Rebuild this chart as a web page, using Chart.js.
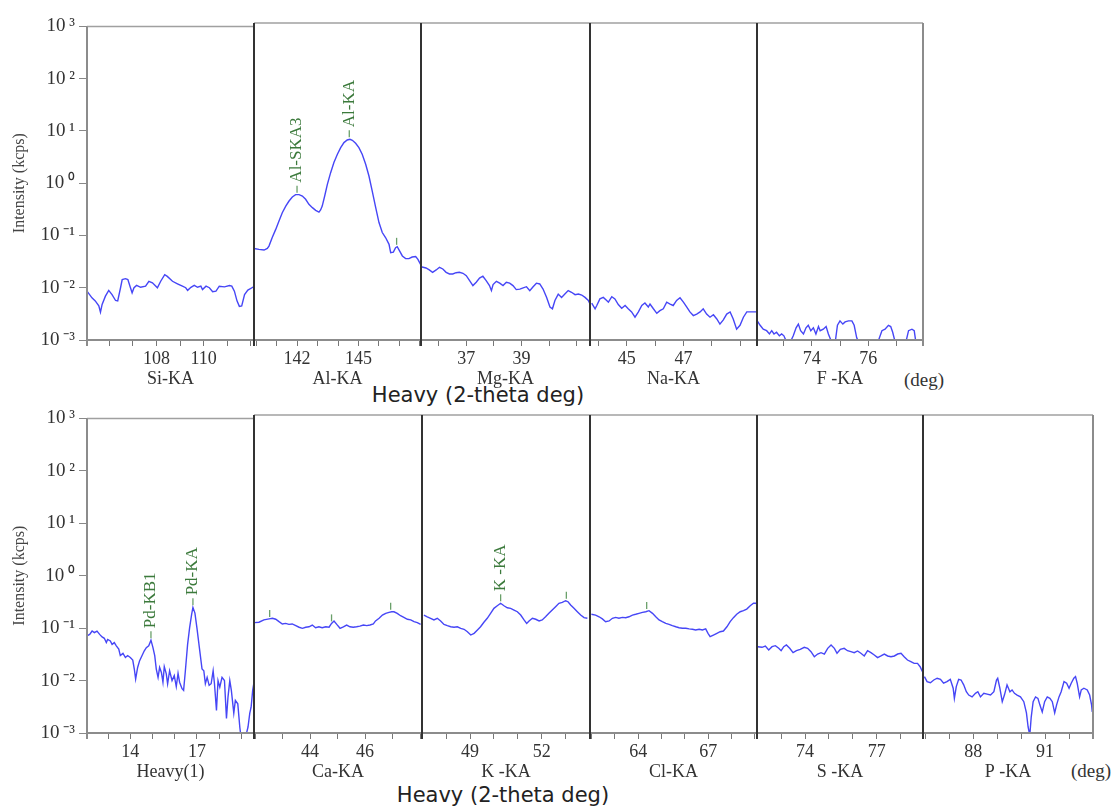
<!DOCTYPE html>
<html>
<head>
<meta charset="utf-8">
<script src="https://cdn.jsdelivr.net/npm/chart.js"></script>
<style>
  body { margin: 0; background: #fff; width: 1118px; height: 807px; position: relative; overflow: hidden; }
  canvas { position: absolute; }
  .lbl { position: absolute; white-space: nowrap; transform: translate(-50%, -50%); }
  .axt { font-family: "DejaVu Sans", sans-serif; font-size: 21px; color: #222; }
  .deg { font-family: "Liberation Serif", serif; font-size: 19px; color: #333; }
</style>
</head>
<body>
<div class="lbl axt" style="left:478px;top:395px">Heavy (2-theta deg)</div>
<div class="lbl deg" style="left:924px;top:380px">(deg)</div>
<div class="lbl axt" style="left:503px;top:795px">Heavy (2-theta deg)</div>
<div class="lbl deg" style="left:1091px;top:771px">(deg)</div>
<script>
// intensity axis (kcps, log)
const yTickValues = [1e-3, 1e-2, 1e-1, 1, 10, 100, 1000];
const yTickLabels = ['10\u2009\u207B\u00B3', '10\u2009\u207B\u00B2', '10\u2009\u207B\u00B9', '10\u2009\u2070', '10\u2009\u00B9', '10\u2009\u00B2', '10\u2009\u00B3'];

// ---- top row ----
const siAngle = [105.06,105.27,105.41,105.56,105.63,105.70,105.84,105.98,106.12,106.27,106.36,106.48,106.55,106.69,106.79,106.90,106.97,107.05,107.16,107.33,107.54,107.68,107.83,108.04,108.18,108.35,108.46,108.68,108.89,109.10,109.24,109.32,109.46,109.60,109.74,109.88,109.95,110.10,110.24,110.38,110.52,110.66,110.88,111.09,111.19,111.30,111.41,111.51,111.61,111.73,111.87,112.08,112.13];
const siInt = [0.0086,0.0064,0.0056,0.0045,0.0034,0.0048,0.0069,0.0089,0.0074,0.0057,0.0056,0.0100,0.0143,0.0149,0.0143,0.0100,0.0080,0.0100,0.0111,0.0102,0.0107,0.0133,0.0124,0.0100,0.0133,0.0178,0.0165,0.0133,0.0119,0.0107,0.0100,0.0089,0.0102,0.0111,0.0102,0.0107,0.0092,0.0107,0.0100,0.0084,0.0086,0.0107,0.0104,0.0110,0.0107,0.0086,0.0056,0.0044,0.0045,0.0074,0.0090,0.0102,0.0107];

const alAngle = [139.90,140.14,140.39,140.55,140.63,140.79,140.96,141.12,141.28,141.45,141.61,141.77,141.93,142.10,142.26,142.42,142.58,142.75,142.91,143.07,143.15,143.23,143.35,143.48,143.64,143.80,143.97,144.13,144.29,144.45,144.58,144.70,144.86,145.02,145.18,145.35,145.51,145.67,145.84,146.00,146.16,146.32,146.49,146.57,146.70,146.81,146.89,147.01,147.14,147.30,147.46,147.62,147.79,147.90,148.03,148.11];
const alInt = [0.054,0.052,0.0505,0.054,0.060,0.087,0.124,0.179,0.257,0.343,0.427,0.508,0.564,0.564,0.531,0.46,0.37,0.32,0.285,0.264,0.29,0.343,0.531,0.885,1.47,2.28,3.27,4.38,5.45,6.1,6.3,6.02,5.28,4.38,3.27,2.12,1.27,0.66,0.32,0.167,0.108,0.087,0.0647,0.045,0.046,0.056,0.0585,0.048,0.039,0.0347,0.0347,0.0372,0.038,0.0336,0.027,0.0234];

const mgAngle = [35.36,35.54,35.66,35.78,35.91,36.03,36.15,36.27,36.39,36.51,36.63,36.75,36.88,37.00,37.12,37.24,37.36,37.48,37.60,37.72,37.84,37.91,37.97,38.09,38.21,38.33,38.45,38.57,38.69,38.81,38.94,39.06,39.18,39.30,39.42,39.54,39.66,39.78,39.91,40.03,40.12,40.21,40.33,40.45,40.57,40.69,40.81,40.94,41.06,41.18,41.30,41.42,41.48];
const mgInt = [0.0244,0.0231,0.0212,0.0191,0.0212,0.0238,0.0221,0.0191,0.0178,0.0178,0.0188,0.0191,0.0183,0.0165,0.0133,0.0107,0.0124,0.0149,0.0161,0.0133,0.0107,0.0086,0.0112,0.0129,0.0119,0.0107,0.0124,0.0119,0.0107,0.0090,0.0092,0.0097,0.0102,0.0086,0.0102,0.0119,0.0115,0.0092,0.0064,0.0042,0.0039,0.0056,0.0074,0.0064,0.0074,0.0086,0.0080,0.0072,0.0074,0.0071,0.0064,0.0056,0.0048];

const naAngle = [43.76,43.88,43.94,44.05,44.17,44.29,44.35,44.47,44.58,44.70,44.82,44.94,45.05,45.17,45.29,45.41,45.53,45.64,45.76,45.82,45.94,46.06,46.17,46.29,46.41,46.53,46.64,46.76,46.88,47.00,47.12,47.23,47.35,47.47,47.59,47.70,47.82,47.94,48.06,48.18,48.29,48.41,48.53,48.65,48.76,48.88,49.00,49.12,49.24,49.35,49.47,49.57];
const naInt = [0.0050,0.0039,0.0045,0.0060,0.0064,0.0056,0.0052,0.0066,0.0060,0.0047,0.0040,0.0045,0.0039,0.0034,0.0027,0.0034,0.0045,0.0050,0.0042,0.0048,0.0039,0.0032,0.0036,0.0039,0.0052,0.0048,0.0045,0.0056,0.0063,0.0052,0.0042,0.0034,0.0029,0.0031,0.0034,0.0039,0.0031,0.0027,0.0030,0.0025,0.0020,0.0024,0.0031,0.0034,0.0025,0.0016,0.0019,0.0027,0.0034,0.0034,0.0034,0.0034];

const fAngle = [72.08,72.18,72.29,72.41,72.51,72.59,72.67,72.76,72.86,72.94,73.02,73.12,73.24,73.35,73.45,73.53,73.61,73.71,73.80,73.88,73.97,74.06,74.15,74.24,74.30,74.41,74.51,74.59,74.71,74.83,74.91,75.00,75.10,75.18,75.30,75.42,75.50,75.59,75.71,75.94,76.30,76.48,76.59,76.71,76.79,76.86,76.95,77.12,77.30,77.42,77.54,77.62,77.68,77.83,77.95];
const fInt = [0.0023,0.0019,0.0016,0.0015,0.0013,0.0015,0.0013,0.0014,0.0012,0.0013,0.0012,0.0009,0.0009,0.0012,0.0017,0.0020,0.0015,0.0013,0.0017,0.0019,0.0015,0.0017,0.0013,0.0018,0.0015,0.0016,0.0018,0.0013,0.0009,0.0009,0.0019,0.0023,0.0020,0.0022,0.0023,0.0023,0.0019,0.0011,0.0008,0.0007,0.0008,0.0015,0.0016,0.0019,0.0018,0.0014,0.0009,0.0008,0.0008,0.0015,0.0016,0.0015,0.0009,0.0008,0.0008];

// ---- bottom row ----
const hvAngle = [12.05,12.17,12.28,12.38,12.50,12.62,12.73,12.83,12.92,12.98,13.10,13.18,13.28,13.37,13.48,13.55,13.67,13.78,13.88,14.00,14.11,14.18,14.24,14.33,14.42,14.53,14.63,14.72,14.83,14.93,15.02,15.10,15.17,15.25,15.32,15.40,15.47,15.53,15.62,15.68,15.77,15.88,15.98,16.07,16.15,16.22,16.33,16.40,16.48,16.58,16.67,16.76,16.82,16.91,17.00,17.11,17.23,17.31,17.38,17.46,17.55,17.64,17.73,17.79,17.88,17.95,18.03,18.13,18.24,18.33,18.40,18.48,18.55,18.66,18.73,18.84,18.93,18.99,19.11,19.23,19.30,19.38,19.44,19.51,19.56];
const hvInt = [0.071,0.076,0.088,0.082,0.088,0.076,0.068,0.064,0.053,0.061,0.057,0.049,0.053,0.046,0.040,0.030,0.033,0.0275,0.030,0.0275,0.0246,0.0166,0.0107,0.0178,0.024,0.030,0.037,0.0425,0.046,0.059,0.0425,0.030,0.0166,0.0115,0.0178,0.0143,0.0093,0.0184,0.0134,0.0087,0.0154,0.0100,0.0124,0.0077,0.0137,0.0093,0.0070,0.0065,0.0154,0.049,0.101,0.181,0.249,0.194,0.101,0.0425,0.0166,0.0154,0.0087,0.0115,0.0081,0.0087,0.0154,0.0087,0.0027,0.0100,0.0075,0.0115,0.0100,0.0019,0.0049,0.0100,0.0065,0.0024,0.0042,0.0036,0.0013,0.0008,0.0008,0.00098,0.0013,0.0024,0.0031,0.0065,0.0087];

const caAngle = [41.98,42.14,42.32,42.51,42.63,42.75,42.87,42.99,43.11,43.23,43.35,43.48,43.60,43.72,43.84,43.96,44.08,44.20,44.32,44.44,44.57,44.69,44.78,44.87,44.97,45.09,45.21,45.33,45.45,45.57,45.69,45.81,45.94,46.06,46.18,46.30,46.38,46.51,46.63,46.75,46.87,46.97,47.05,47.17,47.29,47.41,47.54,47.66,47.78,47.90,48.02];
const caInt = [0.121,0.123,0.136,0.142,0.146,0.140,0.126,0.114,0.117,0.112,0.114,0.106,0.099,0.0945,0.099,0.101,0.109,0.097,0.101,0.097,0.101,0.099,0.117,0.130,0.112,0.0945,0.101,0.109,0.101,0.099,0.101,0.104,0.109,0.106,0.109,0.114,0.130,0.146,0.168,0.181,0.189,0.194,0.194,0.181,0.163,0.152,0.140,0.136,0.126,0.121,0.112];

const kAngle = [47.07,47.21,47.35,47.49,47.63,47.77,47.91,48.05,48.19,48.33,48.47,48.61,48.75,48.89,49.03,49.17,49.31,49.44,49.58,49.72,49.86,50.00,50.14,50.28,50.42,50.56,50.70,50.84,50.98,51.12,51.26,51.37,51.47,51.61,51.75,51.89,52.02,52.16,52.30,52.44,52.58,52.72,52.86,53.00,53.10,53.21,53.35,53.49,53.63,53.77,53.91];
const kInt = [0.168,0.156,0.146,0.136,0.146,0.130,0.112,0.106,0.101,0.099,0.101,0.0945,0.0905,0.0815,0.0706,0.076,0.088,0.101,0.123,0.146,0.181,0.225,0.252,0.280,0.252,0.231,0.225,0.209,0.194,0.168,0.136,0.117,0.130,0.146,0.140,0.130,0.136,0.156,0.181,0.209,0.242,0.280,0.292,0.313,0.300,0.260,0.225,0.194,0.168,0.150,0.146];

const clAngle = [61.99,62.17,62.32,62.46,62.60,62.75,62.89,63.03,63.17,63.32,63.46,63.60,63.75,63.89,64.03,64.18,64.32,64.46,64.61,64.75,64.89,65.03,65.18,65.32,65.46,65.61,65.75,65.89,66.04,66.18,66.32,66.46,66.61,66.75,66.89,66.99,67.08,67.22,67.37,67.51,67.65,67.80,67.94,68.08,68.22,68.37,68.51,68.65,68.80,68.94,69.04,69.11];
const clInt = [0.174,0.168,0.156,0.142,0.126,0.130,0.146,0.152,0.146,0.152,0.150,0.156,0.168,0.174,0.181,0.189,0.194,0.203,0.181,0.156,0.136,0.126,0.117,0.112,0.106,0.101,0.097,0.0945,0.0945,0.092,0.0905,0.088,0.0905,0.088,0.092,0.076,0.066,0.0706,0.076,0.0815,0.084,0.101,0.126,0.150,0.174,0.194,0.203,0.218,0.252,0.280,0.280,0.260];

const sAngle = [72.02,72.20,72.34,72.48,72.62,72.76,72.90,73.00,73.11,73.22,73.36,73.50,73.64,73.80,73.97,74.11,74.25,74.39,74.53,74.67,74.81,74.95,75.09,75.23,75.34,75.48,75.64,75.78,75.92,76.06,76.20,76.34,76.48,76.62,76.76,76.90,77.04,77.18,77.32,77.46,77.60,77.74,77.88,78.02,78.15,78.29,78.43,78.57,78.71,78.82,78.92];
const sInt = [0.0425,0.0414,0.0438,0.0368,0.0425,0.0444,0.0396,0.0357,0.0425,0.0458,0.0396,0.0328,0.0357,0.0379,0.0414,0.0396,0.0343,0.0275,0.0309,0.0328,0.0309,0.0396,0.0458,0.0396,0.0319,0.0379,0.0396,0.0357,0.0343,0.0328,0.0353,0.0319,0.0284,0.0357,0.0328,0.0296,0.0264,0.0284,0.0309,0.0284,0.0275,0.0284,0.0309,0.0319,0.0275,0.0238,0.0221,0.0206,0.0206,0.0178,0.0143];

const pAngle = [85.96,86.07,86.21,86.35,86.49,86.63,86.76,86.90,87.04,87.16,87.21,87.29,87.39,87.49,87.60,87.71,87.81,87.95,88.09,88.19,88.30,88.44,88.58,88.72,88.86,88.97,89.02,89.11,89.21,89.30,89.41,89.53,89.62,89.72,89.83,89.97,90.11,90.22,90.29,90.36,90.42,90.50,90.60,90.70,90.78,90.88,90.98,91.09,91.20,91.30,91.40,91.48,91.58,91.67,91.79,91.90,92.00,92.09,92.20,92.27,92.34,92.44,92.51,92.62,92.76,92.86,92.94,92.97];
const pInt = [0.0116,0.0093,0.0089,0.0100,0.0108,0.0103,0.0087,0.0093,0.0103,0.0070,0.0045,0.0075,0.0103,0.0100,0.0081,0.0060,0.0052,0.0048,0.0056,0.0060,0.0048,0.0056,0.0054,0.0052,0.0060,0.0100,0.0108,0.0070,0.0039,0.0052,0.0081,0.0060,0.0065,0.0056,0.0052,0.0048,0.0039,0.0024,0.0013,0.0009,0.0020,0.0039,0.0048,0.0045,0.0034,0.0025,0.0039,0.0048,0.0045,0.0039,0.0024,0.0034,0.0048,0.0060,0.0093,0.0087,0.0070,0.0087,0.0108,0.0116,0.0087,0.0048,0.0065,0.0070,0.0065,0.0052,0.0034,0.0025];

// peak markers (angle, intensity at the mark, label)
const alMarkAngle = [142.0, 144.55, 146.86];
const alMarkInt = [0.564, 6.3, 0.058];
const alMarkText = ['Al-SKA3', 'Al-KA', ''];
const hvMarkAngle = [14.93, 16.82];
const hvMarkInt = [0.059, 0.249];
const hvMarkText = ['Pd-KB1', 'Pd-KA'];
const caMarkAngle = [42.53, 44.78, 46.93];
const caMarkInt = [0.142, 0.117, 0.194];
const caMarkText = ['', '', ''];
const kMarkAngle = [50.28, 53.03];
const kMarkInt = [0.28, 0.313];
const kMarkText = ['K -KA', ''];
const clMarkAngle = [64.36];
const clMarkInt = [0.2];
const clMarkText = [''];

const rowTop = [23, 415];
const rowBottom = [340, 733];

const panels = [
  {row: 0, left: 87,  right: 254, min: 105.06, max: 112.13, name: 'Si-KA', labels: [108, 110], a: siAngle, v: siInt},
  {row: 0, left: 254, right: 421, min: 139.90, max: 148.05, name: 'Al-KA', labels: [142, 145], a: alAngle, v: alInt,
    marks: {a: alMarkAngle, v: alMarkInt, t: alMarkText}},
  {row: 0, left: 421, right: 590, min: 35.36, max: 41.48, name: 'Mg-KA', labels: [37, 39], a: mgAngle, v: mgInt},
  {row: 0, left: 590, right: 757, min: 43.70, max: 49.60, name: 'Na-KA', labels: [45, 47], a: naAngle, v: naInt},
  {row: 0, left: 757, right: 923, min: 72.07, max: 77.93, name: 'F -KA', labels: [74, 76], a: fAngle, v: fInt},
  {row: 1, left: 87,  right: 254, min: 12.05, max: 19.57, name: 'Heavy(1)', labels: [14, 17], a: hvAngle, v: hvInt,
    marks: {a: hvMarkAngle, v: hvMarkInt, t: hvMarkText}},
  {row: 1, left: 254, right: 422, min: 41.96, max: 48.07, name: 'Ca-KA', labels: [44, 46], a: caAngle, v: caInt,
    marks: {a: caMarkAngle, v: caMarkInt, t: caMarkText}},
  {row: 1, left: 422, right: 590, min: 46.99, max: 54.02, name: 'K -KA', labels: [49, 52], a: kAngle, v: kInt,
    marks: {a: kMarkAngle, v: kMarkInt, t: kMarkText}},
  {row: 1, left: 590, right: 757, min: 61.93, max: 69.09, name: 'Cl-KA', labels: [64, 67], a: clAngle, v: clInt,
    marks: {a: clMarkAngle, v: clMarkInt, t: clMarkText}},
  {row: 1, left: 757, right: 923, min: 71.99, max: 78.94, name: 'S -KA', labels: [74, 77], a: sAngle, v: sInt},
  {row: 1, left: 923, right: 1093, min: 85.90, max: 93.00, name: 'P -KA', labels: [88, 91], a: pAngle, v: pInt}
];

const serif = '"Liberation Serif", "Times New Roman", serif';

function seg(ctx, x1, y1, x2, y2, color, w) {
  ctx.strokeStyle = color;
  ctx.lineWidth = w;
  ctx.beginPath();
  ctx.moveTo(x1, y1);
  ctx.lineTo(x2, y2);
  ctx.stroke();
}

panels.forEach((p, k) => {
  const first = k === 0 || panels[k - 1].row !== p.row;
  const last = k === panels.length - 1 || panels[k + 1].row !== p.row;
  const W = p.right - p.left;
  const plotH = rowBottom[p.row] - rowTop[p.row];

  const cv = document.createElement('canvas');
  cv.width = (first ? p.left : 4) + W + 4;
  cv.height = 12 + plotH + 50;
  cv.style.left = (first ? 0 : p.left - 4) + 'px';
  cv.style.top = (rowTop[p.row] - 12) + 'px';
  document.body.appendChild(cv);

  const frame = {
    id: 'frame',
    afterDatasetsDraw(chart) {
      const {ctx, chartArea: c} = chart;
      ctx.save();
      seg(ctx, c.left, c.top, c.right, c.top, '#a0a0a0', 1.5);
      seg(ctx, c.left, c.bottom, c.right, c.bottom, '#8c8c8c', 2);
      seg(ctx, c.left, c.top, c.left, c.bottom + 6, first ? '#8c8c8c' : '#333', 2);
      seg(ctx, c.right, c.top, c.right, c.bottom + 6, last ? '#8c8c8c' : '#333', 2);
      ctx.restore();
    }
  };

  const peaks = {
    id: 'peaks',
    afterDatasetsDraw(chart) {
      if (!p.marks) return;
      const ctx = chart.ctx, xs = chart.scales.x, ys = chart.scales.y;
      ctx.save();
      p.marks.a.forEach((a, j) => {
        const px = xs.getPixelForValue(a);
        const py = ys.getPixelForValue(p.marks.v[j]);
        seg(ctx, px, py - 2, px, py - 9, '#6aa06a', 1.3);
        if (p.marks.t[j]) {
          ctx.save();
          ctx.translate(px, py - 12);
          ctx.rotate(-Math.PI / 2);
          ctx.fillStyle = '#3c7a3c';
          ctx.font = '17px ' + serif;
          ctx.textAlign = 'left';
          ctx.textBaseline = 'middle';
          ctx.fillText(p.marks.t[j], 0, 0);
          ctx.restore();
        }
      });
      ctx.restore();
    }
  };

  new Chart(cv, {
    type: 'line',
    data: {
      datasets: [{
        data: p.a.map((a, i) => ({x: a, y: p.v[i]})),
        borderColor: '#4646f6',
        borderWidth: 1.4,
        pointRadius: 0,
        tension: 0,
        fill: false
      }]
    },
    options: {
      responsive: false,
      animation: false,
      events: [],
      layout: {padding: {top: 12, right: 4, bottom: 0, left: first ? 0 : 4}},
      plugins: {legend: {display: false}, tooltip: {enabled: false}},
      scales: {
        x: {
          type: 'linear',
          min: p.min,
          max: p.max,
          afterBuildTicks: s => {
            const t = [{value: p.min}];
            for (let v = Math.ceil(p.min); v < p.max; v++) {
              if (v > p.min) t.push({value: v});
            }
            t.push({value: p.max});
            s.ticks = t;
          },
          afterFit: s => { s.height = 50; },
          grid: {drawOnChartArea: false, drawTicks: true, tickLength: 6, color: '#777', lineWidth: 1},
          border: {display: false},
          ticks: {
            autoSkip: false,
            maxRotation: 0,
            padding: 2,
            color: '#333',
            font: {family: serif, size: 18},
            callback: v => p.labels.includes(v) ? String(v) : ''
          },
          title: {display: true, text: p.name, color: '#333', font: {family: serif, size: 18}, padding: {top: 0, bottom: 0}}
        },
        y: {
          type: 'logarithmic',
          display: first,
          position: 'left',
          min: 1e-3,
          max: 1e3,
          afterBuildTicks: s => { s.ticks = yTickValues.map(v => ({value: v})); },
          afterFit: s => { s.width = first ? p.left : 0; },
          grid: {drawOnChartArea: false, drawTicks: true, tickLength: 8, color: '#888'},
          border: {display: false},
          ticks: {
            autoSkip: false,
            padding: 4,
            color: '#333',
            font: {family: serif, size: 19},
            callback: v => yTickLabels[yTickValues.indexOf(v)]
          },
          title: {display: true, text: 'Intensity (kcps)', color: '#444', font: {family: serif, size: 16}, padding: {top: 10, bottom: 0}}
        }
      }
    },
    plugins: [frame, peaks]
  });
});
</script>
</body>
</html>
